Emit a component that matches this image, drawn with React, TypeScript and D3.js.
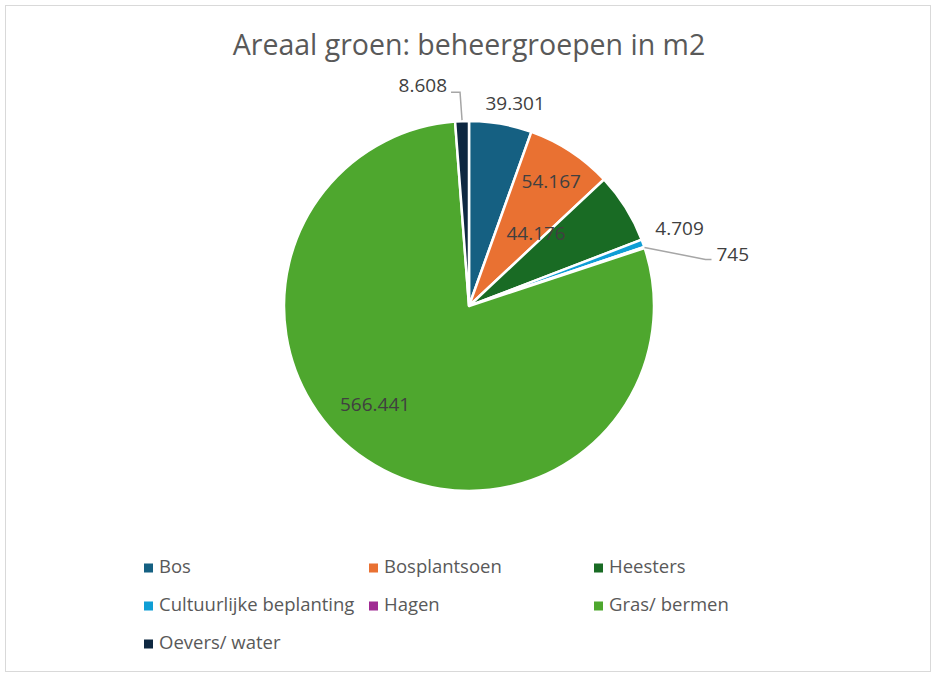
import React from 'react';
import * as d3 from 'd3';

const categories = ['Bos', 'Bosplantsoen', 'Heesters', 'Cultuurlijke beplanting', 'Hagen', 'Gras/ bermen', 'Oevers/ water'];
const values = [39301, 54167, 44176, 4709, 745, 566441, 8608];
const colors = ['#156082', '#E97132', '#196B24', '#0F9ED5', '#A02B93', '#4EA72E', '#0E2841'];

// label placement: radius factor along slice mid-angle, plus a nudge
const labelPlace = [
  { r: 1.11, dx: 11, dy: 1 },
  { r: 0.8, dx: 1, dy: 1 },
  { r: 0.53, dx: -16, dy: -19 },
  { r: 1.21, dx: 0, dy: 0 },
  { r: 1.0, dx: 0, dy: 0, leader: 'right' },
  { r: 0.74, dx: -18, dy: -14 },
  { r: 1.0, dx: 0, dy: 0, leader: 'up' },
];

const fmt = (v: number) => d3.format(',')(v).replace(/,/g, '.');

const W = 937;
const H = 677;
const FONT = '"Open Sans", "Noto Sans", sans-serif';
const LABEL_SIZE = 19;

export default function App() {
  const cx = 469;
  const cy = 306;
  const radius = 185;

  const pie = d3.pie<number>().sort(null).value(d => d);
  const arcs = pie(values);
  const arc = d3.arc<d3.PieArcDatum<number>>().innerRadius(0).outerRadius(radius);

  const polar = (a: number, r: number): [number, number] => [Math.sin(a) * r, -Math.cos(a) * r];

  const legendCols = [144, 369, 594];
  const legendRows = [568, 606, 644];

  return (
    <svg width={W} height={H} style={{ position: 'absolute', left: 0, top: 0, background: '#fff' }} fontFamily={FONT}>
      <rect x={5.5} y={5.5} width={925} height={666} fill="#fff" stroke="#d9d9d9" />
      <text x={cx} y={55} textAnchor="middle" fontSize={28.5} fill="#595959">
        Areaal groen: beheergroepen in m2
      </text>
      <g transform={`translate(${cx},${cy})`}>
        {arcs.map((a, i) => (
          <path key={i} d={arc(a) || ''} fill={colors[i]} stroke="#fff" strokeWidth={2.5} strokeLinejoin="round" />
        ))}
        {arcs.map((a, i) => {
          const mid = (a.startAngle + a.endAngle) / 2;
          const p = labelPlace[i];
          if (p.leader === 'right') {
            const [x0, y0] = polar(mid, radius);
            const x1 = x0 + 61;
            const y1 = y0 + 12;
            return (
              <g key={i}>
                <polyline points={`${x0},${y0} ${x1},${y1} ${x1 + 6},${y1}`} fill="none" stroke="#a6a6a6" strokeWidth={1.5} />
                <text x={x1 + 11} y={y1 - 4} dominantBaseline="middle" fontSize={LABEL_SIZE} fill="#404040">{fmt(values[i])}</text>
              </g>
            );
          }
          if (p.leader === 'up') {
            const [x0, y0] = polar(mid, radius);
            const y1 = y0 - 29;
            const x1 = x0 - 2;
            return (
              <g key={i}>
                <polyline points={`${x0},${y0 - 1} ${x1},${y1} ${x1 - 9},${y1}`} fill="none" stroke="#a6a6a6" strokeWidth={1.5} />
                <text x={x1 - 13} y={y1 - 5} textAnchor="end" dominantBaseline="middle" fontSize={LABEL_SIZE} fill="#404040">{fmt(values[i])}</text>
              </g>
            );
          }
          const [x, y] = polar(mid, radius * p.r);
          return (
            <text key={i} x={x + p.dx} y={y + p.dy} textAnchor="middle" dominantBaseline="middle" fontSize={LABEL_SIZE} fill="#404040">
              {fmt(values[i])}
            </text>
          );
        })}
      </g>
      <g>
        {categories.map((c, i) => {
          const x = legendCols[i % 3];
          const y = legendRows[Math.floor(i / 3)];
          return (
            <g key={c} transform={`translate(${x},${y})`}>
              <rect x={0} y={-4.5} width={9} height={9} fill={colors[i]} />
              <text x={15} y={0} dominantBaseline="middle" fontSize={18.5} fill="#595959">{c}</text>
            </g>
          );
        })}
      </g>
    </svg>
  );
}
